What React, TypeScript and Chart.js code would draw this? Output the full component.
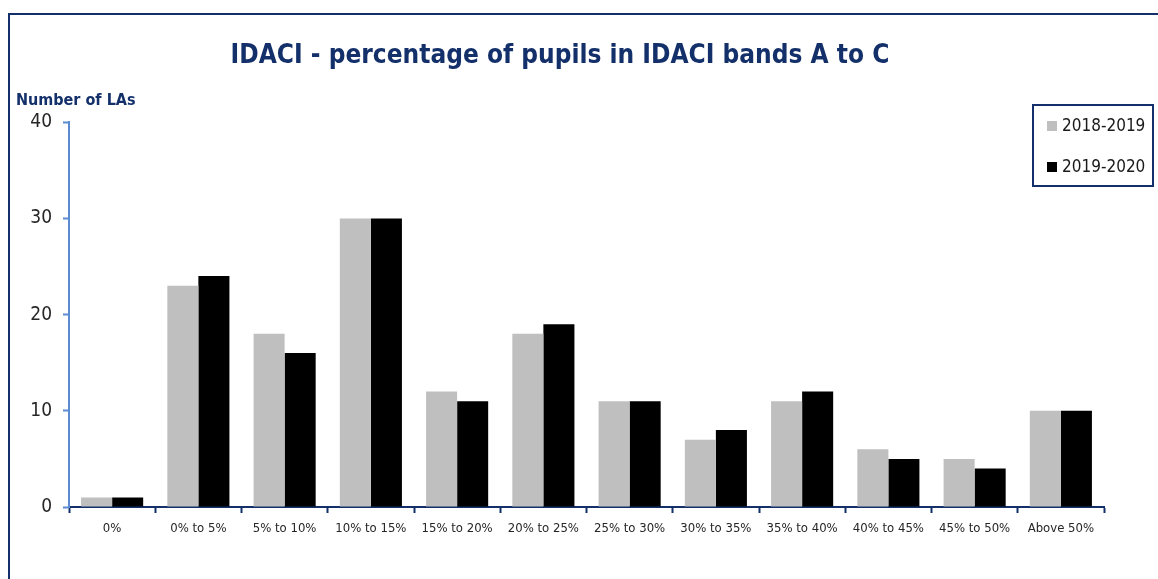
import React, { useEffect, useRef } from "react";
import { Chart, registerables } from "chart.js";

Chart.register(...registerables);

const categories = [
  "0%",
  "0% to 5%",
  "5% to 10%",
  "10% to 15%",
  "15% to 20%",
  "20% to 25%",
  "25% to 30%",
  "30% to 35%",
  "35% to 40%",
  "40% to 45%",
  "45% to 50%",
  "Above 50%",
];
const series2018 = [1, 23, 18, 30, 12, 18, 11, 7, 11, 6, 5, 10];
const series2019 = [1, 24, 16, 30, 11, 19, 11, 8, 12, 5, 4, 10];
const seriesLabels = ["2018-2019", "2019-2020"];
const yMin = 0;
const yMax = 40;
const yStep = 10;
const titleText = "IDACI - percentage of pupils in IDACI bands A to C";
const yAxisTitle = "Number of LAs";

const NAVY = "#13306A";
const LIGHT_BLUE = "#5B8BD0";
const NARROW = "'Liberation Sans Narrow', 'DejaVu Sans Condensed', sans-serif";

const overlayPlugin = {
  id: "overlay",
  afterDraw(chart: any) {
    const ctx = chart.ctx as CanvasRenderingContext2D;
    ctx.save();
    ctx.font = "bold 16px " + NARROW;
    ctx.fillStyle = NAVY;
    ctx.textAlign = "left";
    ctx.textBaseline = "alphabetic";
    ctx.fillText(yAxisTitle, 16, 105);

    ctx.strokeStyle = NAVY;
    ctx.lineWidth = 2;
    ctx.strokeRect(1033, 105, 120, 81);
    chart.data.datasets.forEach((ds: any, i: number) => {
      const cy = 126 + i * 41;
      ctx.fillStyle = ds.backgroundColor;
      ctx.fillRect(1047, cy - 5, 10, 10);
      ctx.fillStyle = "#1a1a1a";
      ctx.font = "17px " + NARROW;
      ctx.textBaseline = "middle";
      ctx.fillText(ds.label, 1062, cy + 1);
    });
    ctx.restore();
  },
};

export default function App() {
  const ref = useRef<HTMLCanvasElement | null>(null);
  useEffect(() => {
    if (!ref.current) return;
    const chart = new Chart(ref.current, {
      type: "bar",
      data: {
        labels: categories,
        datasets: [
          {
            label: seriesLabels[0],
            data: series2018,
            backgroundColor: "#BFBFBF",
            categoryPercentage: 0.72,
            barPercentage: 1,
          },
          {
            label: seriesLabels[1],
            data: series2019,
            backgroundColor: "#000000",
            categoryPercentage: 0.72,
            barPercentage: 1,
          },
        ],
      },
      options: {
        responsive: false,
        animation: false,
        devicePixelRatio: 1,
        layout: { padding: { left: 16, right: 54, top: 0, bottom: 0 } },
        plugins: {
          legend: { display: false },
          tooltip: { enabled: false },
          title: {
            display: true,
            text: titleText,
            color: NAVY,
            font: { family: NARROW, size: 26, weight: "bold", lineHeight: 1.2 },
            padding: { top: 41, bottom: 50 },
          },
        },
        scales: {
          x: {
            grid: {
              display: true,
              drawOnChartArea: false,
              drawTicks: true,
              tickLength: 6,
              tickColor: NAVY,
              tickWidth: 2,
              offset: true,
            },
            border: { display: true, color: NAVY, width: 2 },
            ticks: {
              color: "#262626",
              font: { family: NARROW, size: 13 },
              padding: 8,
              maxRotation: 0,
              autoSkip: false,
            },
            afterFit(scale: any) {
              scale.height = 72;
            },
          },
          y: {
            min: yMin,
            max: yMax,
            grid: {
              display: true,
              drawOnChartArea: false,
              drawTicks: true,
              tickLength: 6,
              tickColor: LIGHT_BLUE,
              tickWidth: 2,
            },
            border: { display: true, color: LIGHT_BLUE, width: 2 },
            ticks: {
              stepSize: yStep,
              color: "#262626",
              font: { family: NARROW, size: 19 },
              padding: 11,
            },
            afterFit(scale: any) {
              scale.width = 53;
            },
          },
        },
      },
      plugins: [overlayPlugin],
    });
    return () => chart.destroy();
  }, []);

  return (
    <div
      style={{
        position: "fixed",
        left: 0,
        top: 0,
        width: 1158,
        height: 579,
        overflow: "hidden",
        background: "#fff",
      }}
    >
      <div
        style={{
          position: "absolute",
          left: 8,
          top: 13,
          width: 1300,
          height: 800,
          border: "2px solid " + NAVY,
          boxSizing: "border-box",
        }}
      />
      <canvas
        ref={ref}
        width={1158}
        height={579}
        style={{ position: "absolute", left: 0, top: 0, width: 1158, height: 579 }}
      />
    </div>
  );
}
